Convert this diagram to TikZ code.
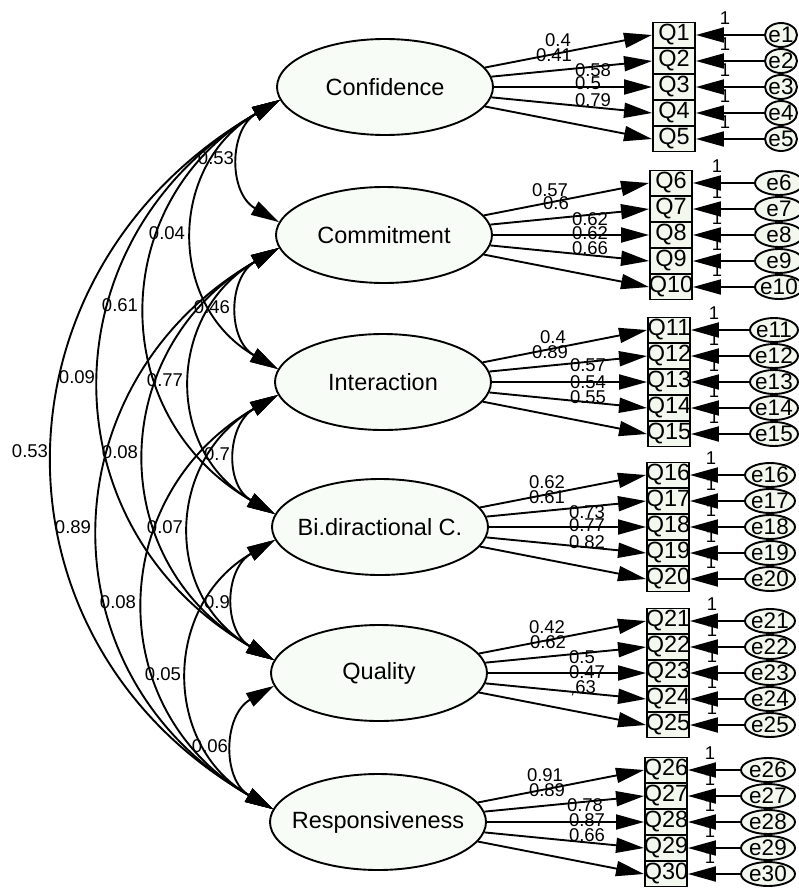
\documentclass[tikz,border=0pt]{standalone}
\usepackage{fontspec}
\setmainfont{Liberation Sans}
\usetikzlibrary{arrows.meta,shapes.geometric}
\definecolor{latfill}{RGB}{248,252,246}
\definecolor{obsfill}{RGB}{242,248,238}
\begin{document}
\begin{tikzpicture}[x=1pt,y=-1pt,
  latent/.style={ellipse, draw, line width=1.9pt, fill=latfill, minimum width=216pt, minimum height=96pt, inner sep=0pt},
  latfont/.style={font=\fontsize{23.5}{28}\selectfont, inner sep=0pt},
  obs/.style={rectangle, draw, line width=1.9pt, fill=obsfill, minimum width=42pt, minimum height=25pt, inner sep=0pt, font=\fontsize{23.5}{26}\selectfont},
  err/.style={ellipse, draw, line width=1.9pt, fill=obsfill, minimum height=24pt, inner sep=0pt, font=\fontsize{22.5}{24}\selectfont},
  lbl/.style={font=\fontsize{18.5}{20}\selectfont, inner sep=0pt},
  load/.style={line width=1.9pt, -{Triangle[length=28pt,width=15pt]}},
  cov/.style={line width=1.9pt, {Triangle[length=28pt,width=15pt]}-{Triangle[length=28pt,width=15pt]}},
]
\useasboundingbox (0,0) rectangle (799,889);

% latent variables
\node[latent] (L1) at (385,87) {};  \node[latfont] at (L1) {Confidence};
\node[latent] (L2) at (384,235) {}; \node[latfont] at (L2) {Commitment};
\node[latent] (L3) at (383,382) {}; \node[latfont] at (L3) {Interaction};
\node[latent] (L4) at (380,527) {}; \node[latfont] at (L4) {Bi.diractional C.};
\node[latent] (L5) at (379,673) {}; \node[latfont] at (L5) {Quality};
\node[latent] (L6) at (378,822) {}; \node[latfont] at (L6) {Responsiveness};

% "1" labels on error paths (drawn first, partly covered by arrowheads)
\foreach \g/\cy/\ox in {1/87/725, 2/235/717, 3/382/714, 4/527/711, 5/673/712, 6/822/710} {
  \foreach \i in {1,...,5} {
    \pgfmathsetmacro\yy{\cy+26*(\i-3)-17}
    \node[lbl] at ({\ox},{\yy}) {1};
  }
}

% observed variables, errors, paths
\foreach \g/\cy/\bx/\ex/\ew in {1/87/674/781/32, 2/235/671/779/48, 3/382/669/774/48, 4/527/668/770/50, 5/673/668/770/50, 6/822/666/768/54} {
  \foreach \i in {1,...,5} {
    \pgfmathtruncatemacro\q{(\g-1)*5+\i}
    \pgfmathsetmacro\yy{\cy+26*(\i-3)}
    \node[obs] (Q\q) at ({\bx},{\yy}) {\makebox[0pt]{Q\q}};
    \node[err, minimum width=\ew pt] (e\q) at ({\ex},{\yy}) {\makebox[0pt]{e\q}};
    \draw[load] (e\q.west) -- (Q\q.east);
    \draw[load] (L\g) -- (Q\q.west);
  }
}

% loading labels
\node[lbl] at (558,40) {0.4};
\node[lbl] at (554,55) {0.41};
\node[lbl] at (593,70) {0.58};
\node[lbl] at (588,83) {0.5};
\node[lbl] at (593,100) {0.79};

\node[lbl] at (550,190) {0.57};
\node[lbl] at (556,203) {0.6};
\node[lbl] at (590,219) {0.62};
\node[lbl] at (590,233) {0.62};
\node[lbl] at (590,248) {0.66};

\node[lbl] at (553,337) {0.4};
\node[lbl] at (550,352) {0.89};
\node[lbl] at (588,365) {0.57};
\node[lbl] at (588,382) {0.54};
\node[lbl] at (588,397) {0.55};

\node[lbl] at (547,482) {0.62};
\node[lbl] at (547,497) {0.61};
\node[lbl] at (587,512) {0.73};
\node[lbl] at (587,525) {0.77};
\node[lbl] at (587,542) {0.82};

\node[lbl] at (547,627) {0.42};
\node[lbl] at (548,642) {0.62};
\node[lbl] at (582,657) {0.5};
\node[lbl] at (587,672) {0.47};
\node[lbl] at (583,688) {,63};

\node[lbl] at (545,775) {0.91};
\node[lbl] at (547,790) {0.89};
\node[lbl] at (585,805) {0.78};
\node[lbl] at (587,820) {0.87};
\node[lbl] at (587,835) {0.66};

% covariances
\draw[cov] (L1.187) .. controls +(-50.9,29.4) and +(-50.9,-29.4) .. (L2.173);
\draw[cov] (L2.187) .. controls +(-50.9,29.4) and +(-50.9,-29.4) .. (L3.173);
\draw[cov] (L3.187) .. controls +(-50.9,29.4) and +(-50.9,-29.4) .. (L4.173);
\draw[cov] (L4.187) .. controls +(-50.9,29.4) and +(-50.9,-29.4) .. (L5.173);
\draw[cov] (L5.187) .. controls +(-50.9,29.4) and +(-50.9,-29.4) .. (L6.173);

\draw[cov] (L1.187) .. controls +(-111.7,64.5) and +(-111.7,-64.5) .. (L3.173);
\draw[cov] (L2.187) .. controls +(-111.7,64.5) and +(-111.7,-64.5) .. (L4.173);
\draw[cov] (L3.187) .. controls +(-111.7,64.5) and +(-111.7,-64.5) .. (L5.173);
\draw[cov] (L4.187) .. controls +(-111.7,64.5) and +(-111.7,-64.5) .. (L6.173);

\draw[cov] (L1.187) .. controls +(-172.1,99.3) and +(-172.1,-99.3) .. (L4.173);
\draw[cov] (L2.187) .. controls +(-172.1,99.3) and +(-172.1,-99.3) .. (L5.173);
\draw[cov] (L3.187) .. controls +(-172.1,99.3) and +(-172.1,-99.3) .. (L6.173);

\draw[cov] (L1.187) .. controls +(-232.9,134.4) and +(-232.9,-134.4) .. (L5.173);
\draw[cov] (L2.187) .. controls +(-232.9,134.4) and +(-232.9,-134.4) .. (L6.173);

\draw[cov] (L1.187) .. controls +(-294.1,169.8) and +(-294.1,-169.8) .. (L6.173);

% covariance labels
\node[lbl] at (216,158) {0.53};
\node[lbl] at (167,233) {0.04};
\node[lbl] at (212,307) {0.46};
\node[lbl] at (120,305) {0.61};
\node[lbl] at (77,377) {0.09};
\node[lbl] at (165,380) {0.77};
\node[lbl] at (30,451) {0.53};
\node[lbl] at (120,452) {0.08};
\node[lbl] at (217,454) {0.7};
\node[lbl] at (73,527) {0.89};
\node[lbl] at (165,527) {0.07};
\node[lbl] at (118,602) {0.08};
\node[lbl] at (217,602) {0.9};
\node[lbl] at (163,674) {0.05};
\node[lbl] at (210,746) {0.06};
\end{tikzpicture}
\end{document}
